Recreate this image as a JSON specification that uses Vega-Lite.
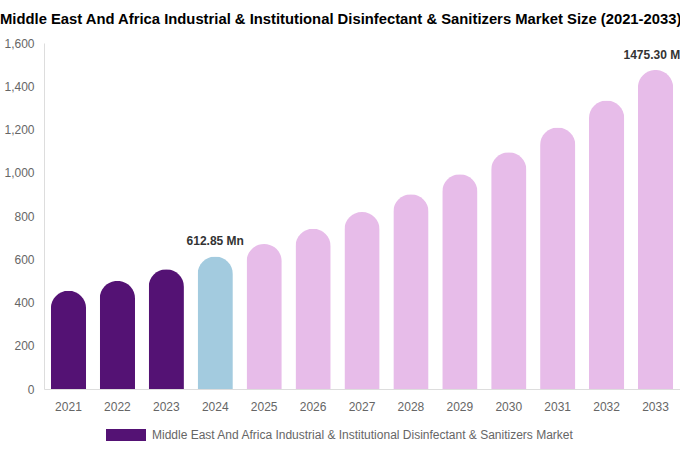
{
  "$schema": "https://vega.github.io/schema/vega-lite/v6.json",
  "autosize": {"type": "none"},
  "padding": {"left": 44, "top": 43, "right": 0, "bottom": 61},
  "width": 636,
  "height": 346,
  "background": "white",
  "title": {
    "text": "Middle East And Africa Industrial & Institutional Disinfectant & Sanitizers Market Size (2021-2033)",
    "anchor": "start",
    "frame": "group",
    "dx": -44,
    "offset": 10,
    "font": "Liberation Sans",
    "fontSize": 14.8,
    "fontWeight": "bold",
    "color": "#000000"
  },
  "data": {
    "values": [
      {"year": "2021", "value": 454, "segment": "Historical"},
      {"year": "2022", "value": 500, "segment": "Historical"},
      {"year": "2023", "value": 554, "segment": "Historical"},
      {"year": "2024", "value": 612.85, "segment": "Base", "label": "612.85 Mn"},
      {"year": "2025", "value": 670, "segment": "Forecast"},
      {"year": "2026", "value": 741, "segment": "Forecast"},
      {"year": "2027", "value": 818, "segment": "Forecast"},
      {"year": "2028", "value": 901, "segment": "Forecast"},
      {"year": "2029", "value": 993, "segment": "Forecast"},
      {"year": "2030", "value": 1095, "segment": "Forecast"},
      {"year": "2031", "value": 1209, "segment": "Forecast"},
      {"year": "2032", "value": 1334, "segment": "Forecast"},
      {"year": "2033", "value": 1475.3, "segment": "Forecast", "label": "1475.30 Mn"}
    ]
  },
  "encoding": {
    "x": {
      "field": "year",
      "type": "ordinal",
      "scale": {"paddingInner": 0.28, "paddingOuter": 0.14},
      "axis": {
        "title": null,
        "labelAngle": 0,
        "ticks": false,
        "domainColor": "#dddddd",
        "labelColor": "#666666",
        "labelFont": "Liberation Sans",
        "labelFontSize": 12,
        "labelPadding": 12,
        "grid": false
      }
    },
    "y": {
      "field": "value",
      "type": "quantitative",
      "scale": {"domain": [0, 1600], "nice": false},
      "axis": {
        "title": null,
        "values": [0, 200, 400, 600, 800, 1000, 1200, 1400, 1600],
        "format": ",.0f",
        "ticks": false,
        "grid": false,
        "domain": true,
        "domainColor": "#dddddd",
        "labelColor": "#666666",
        "labelFont": "Liberation Sans",
        "labelFontSize": 12,
        "labelPadding": 10
      }
    }
  },
  "layer": [
    {
      "mark": {"type": "bar", "cornerRadiusTopLeft": 17.5, "cornerRadiusTopRight": 17.5},
      "encoding": {
        "color": {
          "field": "segment",
          "type": "nominal",
          "scale": {"domain": ["Historical", "Base", "Forecast"], "range": ["#541274", "#a3cbdf", "#e7bce9"]},
          "legend": {
            "values": ["Historical"],
            "labelExpr": "'Middle East And Africa Industrial & Institutional Disinfectant & Sanitizers Market'",
            "title": null,
            "orient": "none",
            "legendX": 62,
            "legendY": 372,
            "symbolType": "M-1,-0.3H1V0.3H-1Z",
            "symbolSize": 1600,
            "symbolStrokeWidth": 0,
            "labelOffset": 6,
            "labelColor": "#666666",
            "labelFont": "Liberation Sans",
            "labelFontSize": 12,
            "labelLimit": 600
          }
        }
      }
    },
    {
      "transform": [{"filter": "datum.label"}],
      "mark": {"type": "text", "baseline": "bottom", "dy": -8, "font": "Liberation Sans", "fontSize": 12, "fontWeight": "bold", "color": "#333333"},
      "encoding": {"text": {"field": "label"}}
    }
  ],
  "config": {"view": {"stroke": null}}
}
